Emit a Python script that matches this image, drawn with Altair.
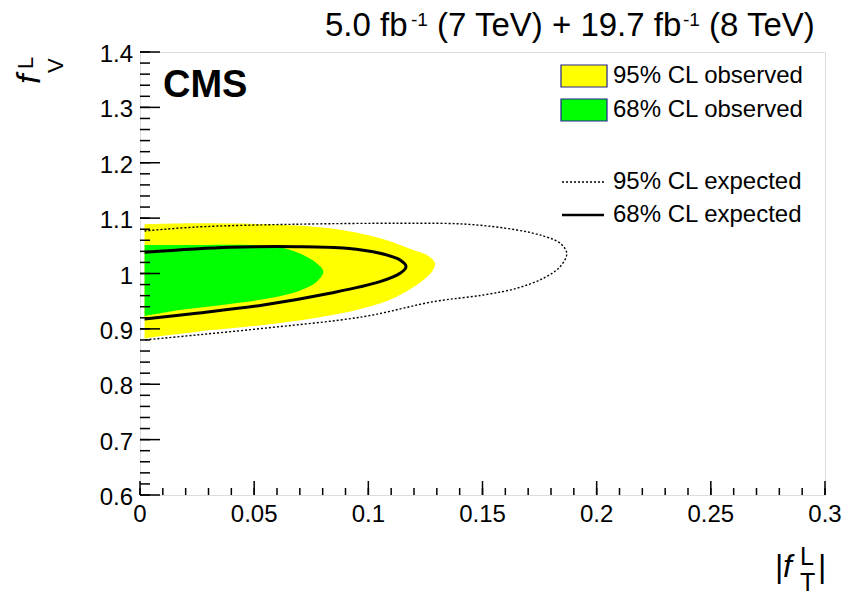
import altair as alt
import pandas as pd

FONT = "Liberation Sans"
W, H = 685, 443

# Axis ranges, tick positions and tick labels
x_domain = [0.0, 0.3]
y_domain = [0.6, 1.4]
x_major = [0.0, 0.05, 0.1, 0.15, 0.2, 0.25, 0.3]
x_labels = ["0", "0.05", "0.1", "0.15", "0.2", "0.25", "0.3"]
y_major = [0.6, 0.7, 0.8, 0.9, 1.0, 1.1, 1.2, 1.3, 1.4]
y_labels = ["0.6", "0.7", "0.8", "0.9", "1", "1.1", "1.2", "1.3", "1.4"]
x_minor = [round(0.01 * i, 2) for i in range(31)]
y_minor = [round(0.6 + 0.02 * i, 2) for i in range(41)]

# 95% CL observed region, outline from the lower edge round the tip to the upper edge
obs95_ft = [0.002, 0.0248, 0.054, 0.0759, 0.0978, 0.1124, 0.1241, 0.1283, 0.1292,
            0.1262, 0.1197, 0.1051, 0.0832, 0.054, 0.0248, 0.002]
obs95_fv = [0.883, 0.8949, 0.907, 0.9191, 0.9372, 0.9582, 0.9883, 1.006, 1.0184,
            1.032, 1.0425, 1.0636, 1.0817, 1.089, 1.0907, 1.089]

# 68% CL observed region, same orientation
obs68_ft = [0.002, 0.0175, 0.0394, 0.054, 0.0686, 0.0774, 0.0803, 0.0774, 0.0715,
            0.0613, 0.05, 0.025, 0.002]
obs68_fv = [0.9233, 0.9341, 0.945, 0.9534, 0.9672, 0.9852, 1.0033, 1.0184, 1.0334,
            1.0473, 1.0512, 1.0515, 1.0515]

# Expected contours, traced from the upper branch round to the lower branch
exp68_ft = [0.002, 0.0394, 0.0686, 0.0905, 0.1051, 0.1139, 0.1165, 0.1139, 0.1051,
            0.0832, 0.054, 0.0248, 0.002]
exp68_fv = [1.0383, 1.0473, 1.0484, 1.0455, 1.0365, 1.0244, 1.0123, 1.0004, 0.9852,
            0.9643, 0.9431, 0.9282, 0.9179]

exp95_ft = [0.002, 0.0248, 0.0686, 0.1139, 0.1431, 0.165, 0.1766, 0.184, 0.1869,
            0.184, 0.1766, 0.165, 0.1504, 0.1285, 0.0978, 0.054, 0.0248, 0.002]
exp95_fv = [1.0768, 1.084, 1.089, 1.0907, 1.089, 1.0786, 1.0678, 1.0546, 1.0365,
            1.0123, 0.9914, 0.9733, 0.9612, 0.9491, 0.922, 0.901, 0.889, 0.88]

legend_labels = ["95% CL observed", "68% CL observed", "95% CL expected", "68% CL expected"]

xs = alt.Scale(domain=x_domain, nice=False, zero=False)
ys = alt.Scale(domain=y_domain, nice=False, zero=False)


def X(field):
    return alt.X(field, type="quantitative", scale=xs, axis=None)


def Y(field):
    return alt.Y(field, type="quantitative", scale=ys, axis=None)


def filled_outline(ft, fv, color):
    # closed outline filled as a polygon
    df = pd.DataFrame({"ft": ft, "fv": fv, "i": list(range(len(ft)))})
    return alt.Chart(df).mark_line(fill=color, stroke=None, strokeWidth=0,
                                   interpolate="catmull-rom").encode(
        x=X("ft"), y=Y("fv"), order="i:Q")


def contour(ft, fv, width, dash=None):
    df = pd.DataFrame({"ft": ft, "fv": fv, "i": list(range(len(ft)))})
    kw = dict(color="black", strokeWidth=width, interpolate="catmull-rom")
    if dash:
        kw["strokeDash"] = dash
    return alt.Chart(df).mark_line(**kw).encode(x=X("ft"), y=Y("fv"), order="i:Q")


def yticks(vals, length):
    return alt.Chart(pd.DataFrame({"fv": vals})).mark_rule(color="black", strokeWidth=1.5).encode(
        y=Y("fv"), x=alt.value(0), x2=alt.value(length))


def xticks(vals, length):
    return alt.Chart(pd.DataFrame({"ft": vals})).mark_rule(color="black", strokeWidth=1.5).encode(
        x=X("ft"), y=alt.value(H), y2=alt.value(H - length))


def ytick_labels():
    df = pd.DataFrame({"fv": y_major, "lab": y_labels})
    return alt.Chart(df).mark_text(font=FONT, fontSize=24, align="right", baseline="middle",
                                   dy=3, color="black").encode(
        y=Y("fv"), x=alt.value(-7), text="lab:N")


def xtick_labels():
    df = pd.DataFrame({"ft": x_major, "lab": x_labels})
    return alt.Chart(df).mark_text(font=FONT, fontSize=24, align="center", baseline="top",
                                   color="black").encode(
        x=X("ft"), y=alt.value(H + 8), text="lab:N")


ONE = alt.Data(values=[{"k": 0}])


def label(txt, x, y, size, align="left", baseline="alphabetic", **kw):
    # x, y are given relative to the top-left corner of the frame
    return alt.Chart(ONE).mark_text(text=txt, font=FONT, fontSize=size, align=align,
                                    baseline=baseline, color="black", **kw).encode(
        x=alt.value(x), y=alt.value(y))


def box(x0, x1, y0, y1, fill):
    return alt.Chart(ONE).mark_rect(fill=fill, stroke="#23238e", strokeWidth=1.2).encode(
        x=alt.value(x0), x2=alt.value(x1), y=alt.value(y0), y2=alt.value(y1))


def seg(x0, x1, y, width, dash=None):
    kw = dict(color="black", strokeWidth=width)
    if dash:
        kw["strokeDash"] = dash
    return alt.Chart(ONE).mark_rule(**kw).encode(
        x=alt.value(x0), x2=alt.value(x1), y=alt.value(y))


OX, OY = 140, 52  # frame origin on the page

layers = [
    filled_outline(obs95_ft, obs95_fv, "#ffff00"),
    filled_outline(obs68_ft, obs68_fv, "#00ff00"),
    contour(exp95_ft, exp95_fv, 1.4, dash=[2, 2]),
    contour(exp68_ft, exp68_fv, 3),
    yticks(y_minor, 10), yticks(y_major, 20),
    xticks(x_minor, 7), xticks(x_major, 14),
    ytick_labels(), xtick_labels(),
    # legend
    box(561 - OX, 607 - OX, 65 - OY, 87 - OY, "#ffff00"),
    box(561 - OX, 607 - OX, 99 - OY, 121 - OY, "#00ff00"),
    seg(562 - OX, 605 - OX, 182 - OY, 1.4, dash=[2, 2]),
    seg(562 - OX, 604 - OX, 215 - OY, 2.5),
    label(legend_labels[0], 613 - OX, 76 - OY, 24, baseline="middle"),
    label(legend_labels[1], 613 - OX, 110 - OY, 24, baseline="middle"),
    label(legend_labels[2], 613 - OX, 182 - OY, 24, baseline="middle"),
    label(legend_labels[3], 613 - OX, 215 - OY, 24, baseline="middle"),
    # experiment tag
    label("CMS", 163 - OX, 97 - OY, 38, fontWeight="bold"),
    # luminosity header
    label("5.0 fb", 325 - OX, 36 - OY, 33),
    label("-1", 411 - OX, 26 - OY, 19),
    label("(7 TeV) + 19.7 fb", 437 - OX, 36 - OY, 33),
    label("-1", 683 - OX, 26 - OY, 19),
    label("(8 TeV)", 709 - OX, 36 - OY, 33),
    # x-axis title |f_T^L|
    label("|", 775 - OX, 577 - OY, 32),
    label("f", 783 - OX, 577 - OY, 32, fontStyle="italic"),
    label("L", 800 - OX, 565 - OY, 25),
    label("T", 800 - OX, 591 - OY, 25),
    label("|", 818 - OX, 577 - OY, 32),
    # y-axis title f_V^L (rotated)
    label("f", 40 - OX, 84 - OY, 34, fontStyle="italic", angle=270),
    label("L", 33 - OX, 69 - OY, 22, angle=270),
    label("V", 63 - OX, 73 - OY, 22, angle=270),
]

chart = alt.layer(*layers).properties(
    width=W, height=H,
    autosize=alt.AutoSizeParams(type="none"),
    padding={"left": OX, "top": OY, "right": 860 - OX - W, "bottom": 596 - OY - H},
).configure_view(stroke="black", strokeWidth=2).configure(background="white")

chart.save("out.html", embed_options={"renderer": "svg", "actions": False})
